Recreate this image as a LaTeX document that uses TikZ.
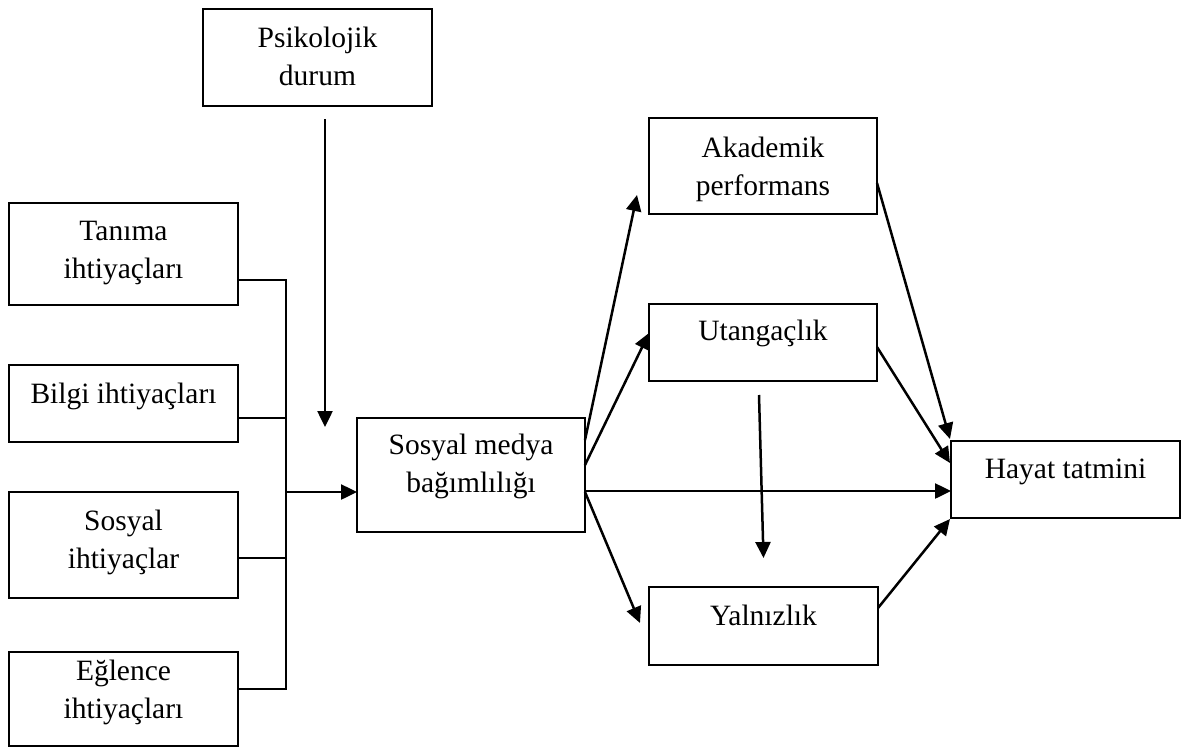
\documentclass[tikz,border=0pt]{standalone}
\usepackage{fontspec}
\setmainfont{Liberation Serif}
\usetikzlibrary{arrows.meta}
\begin{document}
\begin{tikzpicture}[x=1pt,y=-1pt,
  box/.style={draw,line width=2.3pt,minimum width=229pt,inner sep=0pt,outer sep=0pt},
  txt/.style={font=\fontsize{29.5}{38}\selectfont,align=center,inner sep=0pt,anchor=base},
  conn/.style={line width=2.3pt},
  arr/.style={line width=2.5pt,-{Triangle[length=16pt,width=15pt]}}]
\useasboundingbox (0,0) rectangle (1184,747);
% boxes
\node[box,minimum height=102pt] (tan) at (123.5,254) {};
\node[box,minimum height=77pt] (bil) at (123.5,403.5) {};
\node[box,minimum height=106pt] (sos) at (123.5,545) {};
\node[box,minimum height=94pt] (egl) at (123.5,699) {};
\node[box,minimum height=97pt] (psi) at (317.5,57.5) {};
\node[box,minimum width=228pt,minimum height=114pt] (smb) at (471,475) {};
\node[box,minimum width=228pt,minimum height=96pt] (aka) at (763,166) {};
\node[box,minimum width=228pt,minimum height=77pt] (uta) at (763,342.5) {};
\node[box,minimum width=229pt,minimum height=78pt] (yal) at (763.5,626) {};
\node[box,minimum height=77pt] (hay) at (1065.5,479.5) {};
% texts (base = baseline of the last line)
\node[txt] (tan-t) at ([yshift=-75pt]tan.north) {Tanıma\\ihtiyaçları};
\node[txt] (bil-t) at ([yshift=-38pt]bil.north) {Bilgi ihtiyaçları};
\node[txt] (sos-t) at ([yshift=-76pt]sos.north) {Sosyal\\ihtiyaçlar};
\node[txt] (egl-t) at ([yshift=-66pt]egl.north) {Eğlence\\ihtiyaçları};
\node[txt] (psi-t) at ([yshift=-76pt]psi.north) {Psikolojik\\durum};
\node[txt] (smb-t) at ([yshift=-74pt]smb.north) {Sosyal medya\\bağımlılığı};
\node[txt] (aka-t) at ([yshift=-77pt]aka.north) {Akademik\\performans};
\node[txt] (uta-t) at ([yshift=-36pt]uta.north) {Utangaçlık};
\node[txt] (yal-t) at ([yshift=-38pt]yal.north) {Yalnızlık};
\node[txt] (hay-t) at ([yshift=-37pt]hay.north) {Hayat tatmini};
% bus of needs
\coordinate (b1) at (286,280);
\coordinate (b2) at (286,418);
\coordinate (b3) at (286,558);
\coordinate (b4) at (286,689);
\coordinate (bj) at (286,492);
\draw[conn] (tan.east |- b1) -- (b1) -- (b4) -- (egl.east |- b4);
\draw[conn] (bil.east |- b2) -- (b2);
\draw[conn] (sos.east |- b3) -- (b3);
\draw[arr] (bj) -- (smb.west |- bj);
% moderator
\coordinate (pend) at (325,427);
\draw[arr] ([xshift=7.5pt,yshift=-13pt]psi.south) -- (pend);
% outcomes
\draw[arr] ([yshift=35pt]smb.east) -- ([xshift=-12pt,yshift=-29pt]aka.west);
\draw[arr] ([yshift=10pt]smb.east) -- ([yshift=9.5pt]uta.west);
\draw[arr] ([yshift=-16pt]smb.east) -- ([yshift=-11.5pt]hay.west);
\draw[arr] ([yshift=-17pt]smb.east) -- ([xshift=-9pt,yshift=3pt]yal.west);
\draw[arr] ([xshift=-4pt,yshift=-14pt]uta.south) -- ([yshift=29pt]yal.north);
\draw[arr] ([yshift=-17pt]aka.east) -- ([xshift=-1pt,yshift=2pt]hay.north west);
\draw[arr] ([yshift=-4.5pt]uta.east) -- ([xshift=-1pt,yshift=16.5pt]hay.west);
\draw[arr] ([yshift=18pt]yal.east) -- ([xshift=-1pt,yshift=-1pt]hay.south west);
\end{tikzpicture}
\end{document}
